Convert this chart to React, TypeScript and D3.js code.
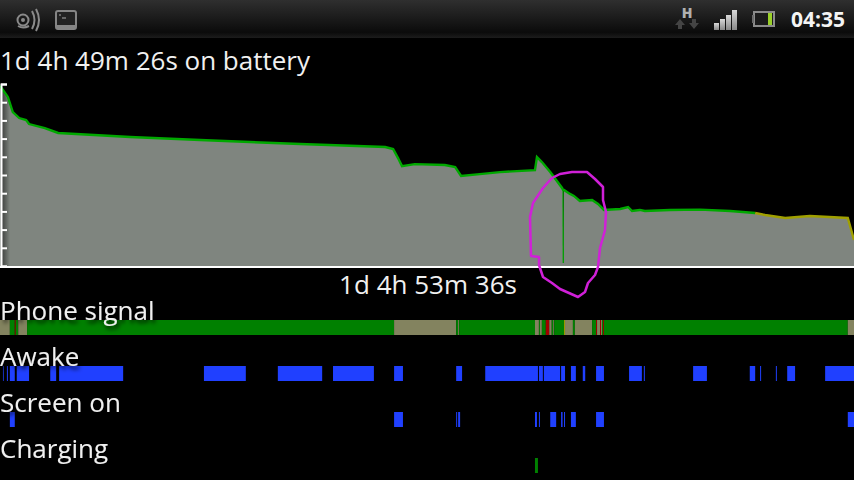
import React, { useRef, useEffect } from 'react';
import * as d3 from 'd3';

// total window on the graph is 1d 4h 53m 36s, in minutes
const totalMinutes = 1733.6;

const batteryMinutes = [
  0, 6, 16, 26, 39, 53, 59, 91, 118, 264, 406, 609, 782, 798, 808, 816, 842, 903, 924, 936, 974,
  1015, 1086, 1090, 1100, 1117, 1141, 1143, 1143.5, 1145, 1157, 1165, 1177, 1202, 1214, 1226, 1259,
  1275, 1283, 1299, 1309, 1360, 1421, 1482, 1533, 1553, 1594, 1644, 1721, 1733.6,
];
const batteryLevels = [
  98.9, 96.7, 92.9, 84.6, 81.3, 80.2, 78, 75.8, 73.1, 70.9, 69.2, 67, 65.4, 64.3, 59.3, 54.9, 56,
  55.5, 54.4, 49.5, 50.5, 51.6, 52.7, 59.9, 57.1, 51.6, 42.9, 41.8, 1.6, 41.8, 39.6, 38.5, 35.7,
  36.3, 34.1, 30.8, 31.3, 32.4, 30.2, 30.8, 30.2, 30.8, 31, 30.2, 29.1, 28, 26.4, 27.5, 26.4, 14.3,
];
const lowLevelFromMinute = 1533;
const dipBelowLevel = 5;

// [from minute, to minute, signal state]
const signalSegments: [number, number, string][] = [
  [0, 20, 'poor'], [20, 30, 'good'], [30, 32, 'bad'], [32, 37, 'good'], [37, 55, 'poor'],
  [55, 800, 'good'], [800, 926, 'poor'], [926, 930, 'good'], [930, 932, 'poor'], [932, 1086, 'good'],
  [1086, 1094, 'poor'], [1094, 1096, 'good'], [1096, 1100, 'poor'], [1100, 1108, 'good'],
  [1108, 1115, 'bad'], [1115, 1120, 'poor'], [1120, 1123, 'good'], [1123, 1125, 'poor'],
  [1125, 1145, 'good'], [1145, 1147, 'fair'], [1147, 1163, 'poor'], [1163, 1167, 'good'],
  [1167, 1202, 'poor'], [1202, 1210, 'good'], [1210, 1212, 'bad'], [1212, 1218, 'poor'],
  [1218, 1220, 'bad'], [1220, 1222, 'poor'], [1222, 1224, 'good'], [1224, 1226, 'bad'],
  [1226, 1721, 'good'], [1721, 1733.6, 'poor'],
];

const awakeSpans: [number, number][] = [
  [6, 7.5], [14, 16], [20, 30], [34, 59], [102, 114], [120, 250], [414, 499], [564, 654], [676, 759],
  [800, 818], [926, 938], [985, 1092], [1094, 1102], [1104, 1137], [1139, 1147], [1159, 1169],
  [1183, 1188], [1210, 1226], [1277, 1303], [1307, 1309], [1407, 1435], [1522, 1533], [1543, 1545],
  [1575, 1577], [1598, 1614], [1675, 1733.6],
];
const screenSpans: [number, number][] = [
  [20, 30], [800, 818], [926, 928], [930, 934], [1086, 1090], [1094, 1096], [1117, 1129], [1139, 1142],
  [1145, 1147], [1159, 1169], [1210, 1226], [1721, 1733.6],
];
const chargingSpans: [number, number][] = [[1086, 1092]];

const rows = [
  { label: 'Phone signal', baseline: 320, barTop: 320 },
  { label: 'Awake', baseline: 366, barTop: 366 },
  { label: 'Screen on', baseline: 412, barTop: 412 },
  { label: 'Charging', baseline: 458, barTop: 458 },
];

const signalColors: Record<string, string> = {
  good: '#008000',
  poor: '#83835f',
  fair: '#a0a000',
  bad: '#a00000',
};

// hand drawn loop on top of the screenshot
const scribble: [number, number][] = [
  [552, 178], [560, 174], [572, 172], [587, 172], [595, 179], [603, 187], [603, 200], [606, 212],
  [605, 230], [600, 248], [598, 267], [595, 275], [588, 283], [585, 292], [578, 297], [560, 289],
  [552, 283], [543, 277], [539, 265], [539, 257], [531, 256], [530, 217], [533, 203], [543, 188],
  [552, 178],
];

const fontFamily = '"Open Sans", "Noto Sans", sans-serif';

const App: React.FC = () => {
  const svgRef = useRef<SVGSVGElement | null>(null);

  useEffect(() => {
    if (!svgRef.current) return;
    d3.select(svgRef.current).selectAll('*').remove();

    const width = 854;
    const height = 480;
    const svg = d3.select(svgRef.current).attr('width', width).attr('height', height);

    const xScale = d3.scaleLinear().domain([0, totalMinutes]).range([0, width]);
    const yScale = d3.scaleLinear().domain([0, 100]).range([266, 84]);
    const barHeight = 15;

    const defs = svg.append('defs');
    const barGrad = defs.append('linearGradient').attr('id', 'statusBar').attr('x2', 0).attr('y2', 1);
    barGrad.append('stop').attr('offset', 0).attr('stop-color', '#2f2f2f');
    barGrad.append('stop').attr('offset', 0.85).attr('stop-color', '#0b0b0b');
    barGrad.append('stop').attr('offset', 1).attr('stop-color', '#1c1c1c');
    const shadow = defs.append('filter').attr('id', 'textShadow').attr('x', '-10%').attr('y', '-30%').attr('width', '120%').attr('height', '170%');
    shadow.append('feDropShadow').attr('dx', 2).attr('dy', 3).attr('stdDeviation', 2).attr('flood-color', '#000').attr('flood-opacity', 0.9);
    const bars = defs.append('linearGradient').attr('id', 'signalIcon').attr('x2', 0).attr('y2', 1);
    bars.append('stop').attr('offset', 0).attr('stop-color', '#d8d8d8');
    bars.append('stop').attr('offset', 1).attr('stop-color', '#888');
    const edge = defs.append('linearGradient').attr('id', 'areaEdge');
    edge.append('stop').attr('offset', 0).attr('stop-color', '#000').attr('stop-opacity', 0.5);
    edge.append('stop').attr('offset', 1).attr('stop-color', '#000').attr('stop-opacity', 0);

    svg.append('rect').attr('width', width).attr('height', height).attr('fill', '#000');

    // status bar
    svg.append('rect').attr('width', width).attr('height', 38).attr('fill', 'url(#statusBar)');
    const icons = svg.append('g');
    // notification icon
    icons.append('circle').attr('cx', 23).attr('cy', 20).attr('r', 5.5).attr('fill', 'none').attr('stroke', '#8a8a8a').attr('stroke-width', 2);
    icons.append('circle').attr('cx', 23).attr('cy', 20).attr('r', 2).attr('fill', '#8a8a8a');
    icons.append('path').attr('d', 'M32 11 Q37 20 32 29').attr('fill', 'none').attr('stroke', '#8a8a8a').attr('stroke-width', 2);
    icons.append('path').attr('d', 'M36 9 Q42 20 36 31').attr('fill', 'none').attr('stroke', '#8a8a8a').attr('stroke-width', 2);
    icons.append('path').attr('d', 'M29 26 Q23 29 18 26').attr('fill', 'none').attr('stroke', '#8a8a8a').attr('stroke-width', 2);
    // terminal icon
    icons.append('rect').attr('x', 56).attr('y', 11).attr('width', 20).attr('height', 18).attr('rx', 2).attr('fill', '#222').attr('stroke', '#858585').attr('stroke-width', 2);
    icons.append('rect').attr('x', 56).attr('y', 25).attr('width', 20).attr('height', 4).attr('fill', '#858585');
    icons.append('path').attr('d', 'M59 15 h2 M62 18 h4').attr('stroke', '#aaa').attr('stroke-width', 1);
    // H network
    icons.append('text').attr('x', 687).attr('y', 18).attr('text-anchor', 'middle').attr('fill', '#b0b0b0').attr('font-family', fontFamily).attr('font-weight', 800).attr('font-size', 14).text('H');
    icons.append('path').attr('d', 'M680 19 l-5 6 h3 v4 h4 v-4 h3 z').attr('fill', '#444');
    icons.append('path').attr('d', 'M694 29 l-5 -6 h3 v-4 h4 v4 h3 z').attr('fill', '#444');
    // signal strength
    [7, 11, 15, 20].forEach((h, i) => {
      icons.append('rect').attr('x', 714 + i * 6).attr('y', 30 - h).attr('width', 5).attr('height', h).attr('fill', 'url(#signalIcon)');
    });
    // battery
    icons.append('rect').attr('x', 754).attr('y', 12).attr('width', 20).attr('height', 14).attr('fill', '#1c1c1c').attr('stroke', '#8c8c8c').attr('stroke-width', 2);
    icons.append('rect').attr('x', 752).attr('y', 15).attr('width', 2).attr('height', 8).attr('fill', '#6c6c6c');
    icons.append('rect').attr('x', 768).attr('y', 13).attr('width', 4).attr('height', 12).attr('fill', '#9ad02a');
    svg.append('text').attr('x', 791).attr('y', 27).attr('fill', '#f4f4f4').attr('font-family', fontFamily).attr('font-weight', 700).attr('font-size', 21).text('04:35');

    svg.append('text').attr('x', 0).attr('y', 70).attr('fill', '#f0f0f0').attr('font-family', fontFamily).attr('font-size', 26).text('1d 4h 49m 26s on battery');

    // battery level
    type Point = { m: number; level: number };
    const points: Point[] = batteryMinutes.map((m, i) => ({ m, level: batteryLevels[i] }));
    const area = d3.area<Point>().x((d) => xScale(d.m)).y0(yScale(0)).y1((d) => yScale(d.level));
    const line = d3.line<Point>().x((d) => xScale(d.m)).y((d) => yScale(d.level));
    const dipIndex = points.findIndex((d) => d.level < dipBelowLevel);
    const mainLine = points.filter((d) => d.level >= dipBelowLevel);
    svg.append('path').attr('d', area(points)).attr('fill', '#7f857f');
    svg.append('rect').attr('x', 2).attr('y', yScale(100)).attr('width', 8).attr('height', yScale(0) - yScale(100)).attr('fill', 'url(#areaEdge)');
    svg.append('path').attr('d', line(points.slice(dipIndex - 1, dipIndex + 1))).attr('fill', 'none').attr('stroke', '#00a000').attr('stroke-width', 1.3);
    svg.append('path').attr('d', line(mainLine.filter((d) => d.m <= lowLevelFromMinute))).attr('fill', 'none').attr('stroke', '#00a800').attr('stroke-width', 2.4);
    svg.append('path').attr('d', line(mainLine.filter((d) => d.m >= lowLevelFromMinute))).attr('fill', 'none').attr('stroke', '#a0a000').attr('stroke-width', 2.4);

    // axes
    const yAxis = d3.axisRight(yScale).ticks(10).tickSize(6).tickFormat(() => '');
    const axisG = svg.append('g').attr('transform', 'translate(1,0)').call(yAxis);
    axisG.selectAll('line').attr('stroke', '#fff').attr('stroke-width', 2);
    axisG.select('.domain').attr('stroke', '#fff').attr('stroke-width', 2);
    svg.append('line').attr('x1', 0).attr('x2', width).attr('y1', yScale(0) + 1).attr('y2', yScale(0) + 1).attr('stroke', '#fff').attr('stroke-width', 2);

    svg.append('text').attr('x', 428).attr('y', 294).attr('text-anchor', 'middle').attr('fill', '#f0f0f0').attr('font-family', fontFamily).attr('font-size', 26).text('1d 4h 53m 36s');

    // state rows
    svg.append('g').selectAll('rect').data(signalSegments).join('rect')
      .attr('x', (d) => xScale(d[0])).attr('width', (d) => xScale(d[1]) - xScale(d[0]))
      .attr('y', rows[0].barTop).attr('height', barHeight).attr('fill', (d) => signalColors[d[2]]);
    const spanRows: [[number, number][], number, string][] = [
      [awakeSpans, rows[1].barTop, '#2040ff'],
      [screenSpans, rows[2].barTop, '#2040ff'],
      [chargingSpans, rows[3].barTop, '#008000'],
    ];
    spanRows.forEach(([spans, top, color]) => {
      svg.append('g').selectAll('rect').data(spans).join('rect')
        .attr('x', (d) => xScale(d[0])).attr('width', (d) => xScale(d[1]) - xScale(d[0]))
        .attr('y', top).attr('height', barHeight).attr('fill', color);
    });

    svg.append('g').selectAll('text').data(rows).join('text')
      .attr('x', 0).attr('y', (d) => d.baseline).attr('fill', '#f0f0f0')
      .attr('font-family', fontFamily).attr('font-size', 26).attr('filter', 'url(#textShadow)')
      .text((d) => d.label);

    svg.append('path').attr('d', d3.line()(scribble)).attr('fill', 'none').attr('stroke', '#d020d8').attr('stroke-width', 2.5).attr('stroke-linejoin', 'round');
  }, []);

  return <svg ref={svgRef} style={{ position: 'absolute', left: 0, top: 0, display: 'block' }}></svg>;
};

export default App;
